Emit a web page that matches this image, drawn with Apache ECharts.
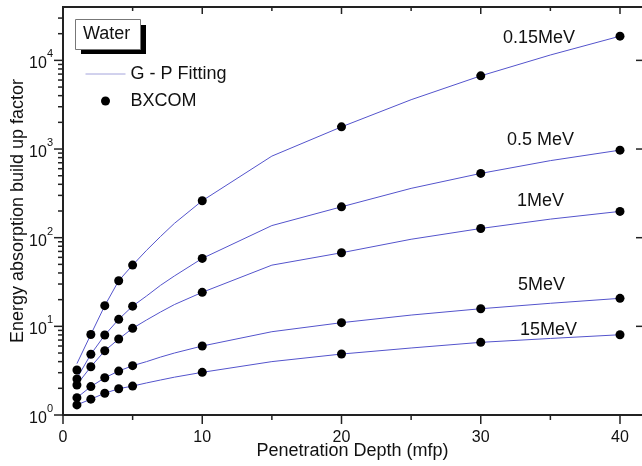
<!DOCTYPE html>
<html>
<head>
<meta charset="utf-8">
<title>Water build up factor</title>
<script src="https://cdn.jsdelivr.net/npm/echarts@6/dist/echarts.min.js"></script>
<style>
  html, body { margin: 0; padding: 0; background: #fff; }
  #chart { width: 642px; height: 466px; }
</style>
</head>
<body>
<div id="chart"></div>
<script>
// BXCOM points (penetration depth in mfp)
var depthBx = [1, 2, 3, 4, 5, 10, 20, 30, 40];
var bx015 = [3.22, 8.1, 17.1, 32.7, 49.1, 261, 1778, 6690, 18750];
var bx05 = [2.55, 4.84, 7.98, 12.0, 16.9, 58.4, 223, 531, 972];
var bx1 = [2.18, 3.5, 5.31, 7.19, 9.5, 24.2, 67.6, 127, 198];
var bx5 = [1.57, 2.09, 2.63, 3.13, 3.6, 6.0, 11.0, 15.8, 20.7];
var bx15 = [1.30, 1.51, 1.76, 1.98, 2.12, 3.03, 4.87, 6.6, 8.04];

// G-P fitting curves
var depthFit = [1, 2, 3, 4, 5, 6, 7, 8, 10, 15, 20, 25, 30, 35, 40];
var fit015 = [3.8, 8.1, 17.1, 32.7, 49.1, 72, 103, 145, 261, 832, 1778, 3600, 6690, 11500, 18750];
var fit05 = [2.6, 4.84, 7.98, 12.0, 16.9, 22, 29, 37, 58.4, 137, 223, 360, 531, 740, 972];
var fit1 = [2.2, 3.5, 5.31, 7.19, 9.5, 11.8, 14.5, 17.6, 24.2, 49, 67.6, 96, 127, 162, 198];
var fit5 = [1.57, 2.09, 2.63, 3.13, 3.6, 4.0, 4.5, 5.0, 6.0, 8.7, 11.0, 13.4, 15.8, 18.2, 20.7];
var fit15 = [1.30, 1.51, 1.76, 1.98, 2.12, 2.3, 2.48, 2.67, 3.03, 4.0, 4.87, 5.7, 6.6, 7.3, 8.04];

var energyLabels = ["0.15MeV", "0.5 MeV", "1MeV", "5MeV", "15MeV"];

// tick positions (frame, major and minor ticks)
var xMajor = [0, 10, 20, 30, 40];
var xMinor = [5, 15, 25, 35];
var xTop = [5, 10, 15, 20, 25, 30, 35, 40];
var yMajor = [1, 10, 100, 1000, 10000];
var yMinor = [2, 3, 4, 5, 6, 7, 8, 9, 20, 30, 40, 50, 60, 70, 80, 90,
  200, 300, 400, 500, 600, 700, 800, 900, 2000, 3000, 4000, 5000, 6000, 7000, 8000, 9000,
  20000, 30000];

var xMax = 41.58;
var yMin = 1;
var yMax = 40000;

var font = "Liberation Sans, Arial, sans-serif";
var lineColor = "#5454cc";
var axisColor = "#222";

function pairs(xs, ys) {
  return xs.map(function(x, i) { return [x, ys[i]]; });
}

var chart = echarts.init(document.getElementById("chart"));

var fits = [fit015, fit05, fit1, fit5, fit15];
var bxs = [bx015, bx05, bx1, bx5, bx15];
var series = [];
fits.forEach(function(f) {
  series.push({
    name: "G - P Fitting",
    type: "line",
    data: pairs(depthFit, f),
    symbol: "none",
    showSymbol: false,
    lineStyle: { color: lineColor, width: 1 },
    itemStyle: { color: lineColor },
    z: 2
  });
});
bxs.forEach(function(b) {
  series.push({
    name: "BXCOM",
    type: "scatter",
    data: pairs(depthBx, b),
    symbol: "circle",
    symbolSize: 9,
    itemStyle: { color: "#000", opacity: 1 },
    z: 3
  });
});

// frame: top line and all tick marks, placed with the axis scales
// kind 0 = bottom, 1 = top (inside), 2 = left, 3 = right (inside), 4 = top line
var frameData = [[0, 4, 0]];
xMajor.forEach(function(v) { frameData.push([v, 0, 9]); });
xMinor.forEach(function(v) { frameData.push([v, 0, 5]); });
xTop.forEach(function(v) { frameData.push([v, 1, v % 10 === 0 ? 7 : 4]); });
yMajor.forEach(function(v) { frameData.push([v, 2, 9]); });
yMinor.forEach(function(v) { frameData.push([v, 2, 5]); });
yMajor.forEach(function(v) { frameData.push([v, 3, 6]); });

series.push({
  type: "custom",
  clip: false,
  z: 6,
  data: frameData,
  renderItem: function(params, api) {
    var v = api.value(0);
    var kind = api.value(1);
    var len = api.value(2);
    var lt = api.coord([0, yMax]);
    var rb = api.coord([xMax, yMin]);
    var r;
    if (kind === 4) {
      r = { x: lt[0] - 1, y: lt[1] - 1, width: rb[0] - lt[0] + 2, height: 2 };
    } else if (kind === 0 || kind === 1) {
      var px = api.coord([v, yMin])[0];
      r = kind === 0
        ? { x: px - 0.75, y: rb[1], width: 1.5, height: len }
        : { x: px - 0.75, y: lt[1], width: 1.5, height: len };
    } else {
      var py = api.coord([0, v])[1];
      r = kind === 2
        ? { x: lt[0] - len, y: py - 0.75, width: len, height: 1.5 }
        : { x: rb[0] - len, y: py - 0.75, width: len, height: 1.5 };
    }
    return { type: "rect", shape: r, style: { fill: axisColor } };
  }
});

// energy labels placed next to the curve ends
var labelPos = [[503, 29], [507, 131], [517, 192], [518, 276], [520, 321]];
var graphics = energyLabels.map(function(t, i) {
  return {
    type: "text",
    left: labelPos[i][0],
    top: labelPos[i][1],
    style: { text: t, font: "18px " + font, fill: "#111" }
  };
});
// "Water" box with drop shadow
graphics.push({
  type: "rect",
  shape: { x: 81, y: 25, width: 65, height: 29 },
  style: { fill: "#000" },
  z: 10
});
graphics.push({
  type: "rect",
  shape: { x: 75.5, y: 19.5, width: 65, height: 30 },
  style: { fill: "#fff", stroke: "#777", lineWidth: 1 },
  z: 11
});
graphics.push({
  type: "text",
  left: 83,
  top: 25,
  style: { text: "Water", font: "18px " + font, fill: "#111" },
  z: 12
});

chart.setOption({
  animation: false,
  grid: { left: 63, top: 7, right: 0, bottom: 51, outerBoundsMode: "none" },
  legend: {
    left: 85,
    top: 65,
    padding: 0,
    orient: "vertical",
    itemWidth: 40,
    itemHeight: 9,
    itemGap: 9,
    textStyle: { fontSize: 18, color: "#111", fontFamily: font },
    data: [
      { name: "G - P Fitting", lineStyle: { color: "#a4a4dc", width: 1 }, itemStyle: { opacity: 0 } },
      { name: "BXCOM", icon: "circle", itemStyle: { color: "#000", opacity: 1 } }
    ]
  },
  graphic: graphics,
  xAxis: {
    type: "value",
    min: 0,
    max: xMax,
    interval: 10,
    splitLine: { show: false },
    name: "Penetration Depth (mfp)",
    nameLocation: "middle",
    nameGap: 27,
    nameMoveOverlap: false,
    nameTextStyle: { fontSize: 18, color: "#111", fontFamily: font },
    axisLine: { show: true, lineStyle: { color: axisColor, width: 2 } },
    axisTick: { show: false },
    axisLabel: { showMaxLabel: false, fontSize: 16, margin: 15, color: "#111", fontFamily: font }
  },
  yAxis: {
    type: "log",
    min: yMin,
    max: yMax,
    splitLine: { show: false },
    name: "Energy absorption build up factor",
    nameLocation: "middle",
    nameGap: 36,
    nameMoveOverlap: false,
    nameTextStyle: { fontSize: 18, color: "#111", fontFamily: font },
    axisLine: { show: true, lineStyle: { color: axisColor, width: 2 } },
    axisTick: { show: false },
    axisLabel: {
      showMaxLabel: false,
      margin: 10,
      formatter: function(v) {
        return "{b|10}{s|" + Math.round(Math.log10(v)) + "}";
      },
      rich: {
        b: { fontSize: 16, color: "#111", fontFamily: font, verticalAlign: "bottom" },
        s: { fontSize: 11, color: "#111", fontFamily: font, verticalAlign: "top", padding: [0, 0, 12, 0] }
      }
    }
  },
  series: series
});
</script>
</body>
</html>
